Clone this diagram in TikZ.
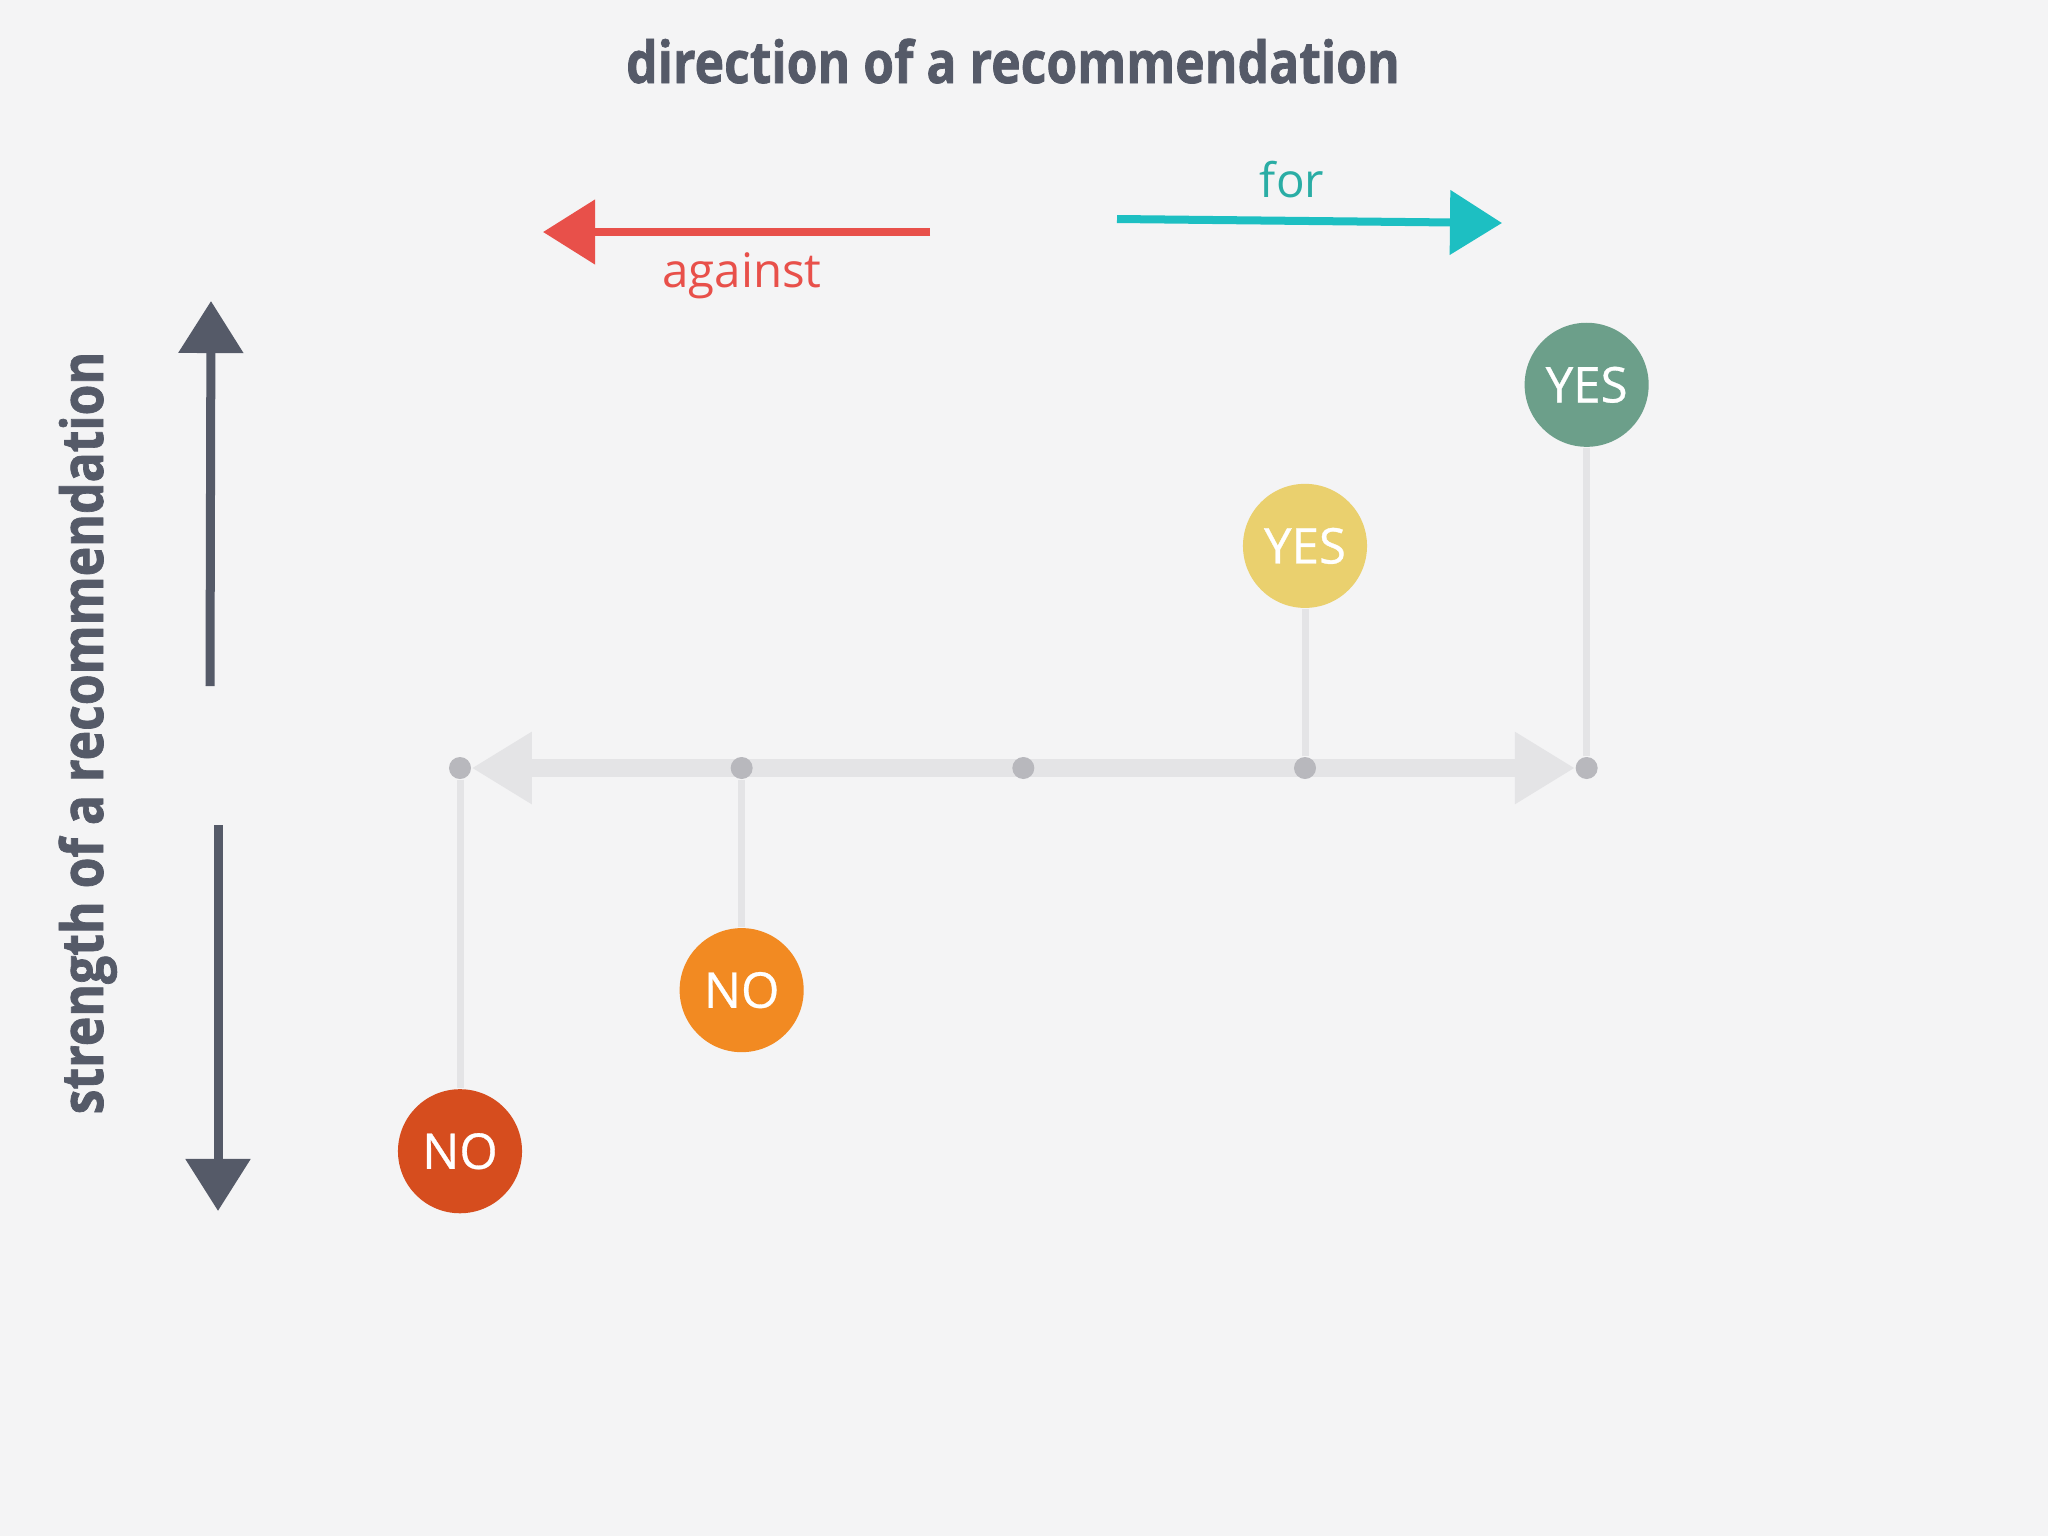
\documentclass[tikz,border=0pt]{standalone}
\usepackage{fontspec}
\setmainfont{Open Sans}
\newfontfamily\headfont{Open Sans}[FakeStretch=0.86, BoldFeatures={FakeBold=1.2}]
\newfontfamily\ballfont{Open Sans}[FakeBold=0.6]
\usepackage{tikz}
\usetikzlibrary{positioning,arrows.meta,backgrounds}
\definecolor{paper}{HTML}{F4F4F5}
\definecolor{slate}{HTML}{555A68}
\definecolor{axisgray}{HTML}{E4E4E6}
\definecolor{dotgray}{HTML}{B8B8BD}
\definecolor{againstred}{HTML}{E8504A}
\definecolor{forteal}{HTML}{1DBFC2}
\definecolor{fortext}{HTML}{2AADA5}
\definecolor{nored}{HTML}{D64D1E}
\definecolor{noorange}{HTML}{F28A22}
\definecolor{yesyellow}{HTML}{EAD06E}
\definecolor{yesgreen}{HTML}{6C9F8A}
\tikzstyle{ball} = [circle, minimum size=1.24cm, inner sep=0pt,
    text=white, font=\ballfont\fontsize{14}{16}\selectfont]
\tikzstyle{dot} = [circle, fill=dotgray, minimum size=0.22cm, inner sep=0pt]
\tikzstyle{stem} = [draw=axisgray, line width=0.07cm]
\tikzstyle{axis} = [draw=axisgray, line width=0.18cm,
    {Triangle[length=0.6cm,width=0.68cm]}-{Triangle[length=0.6cm,width=0.68cm]}]
\tikzstyle{heading} = [text=slate, font=\headfont\fontsize{16.5}{19}\selectfont\bfseries]
\tikzstyle{label} = [font=\fontsize{13.5}{16}\selectfont, anchor=base]
\tikzstyle{sketch} = [line width=0.08cm, -{Triangle[length=0.52cm,width=0.63cm]}]

\begin{document}
\begin{tikzpicture}[x=0.01cm, y=-0.01cm]
    \begin{pgfonlayer}{background}
      \fill [paper] (0,0) rectangle (2048,1536);
    \end{pgfonlayer}
    \useasboundingbox (0,0) rectangle (2048,1536);
    % Place nodes
    \node [dot] (d1) at (460,768) {};
    \node [dot, on grid, right=2.815cm of d1] (d2) {};
    \node [dot, on grid, right=2.815cm of d2] (d3) {};
    \node [dot, on grid, right=2.815cm of d3] (d4) {};
    \node [dot, on grid, right=2.815cm of d4] (d5) {};
    \node [ball, fill=nored, on grid, below=3.83cm of d1] (no1) {NO};
    \node [ball, fill=noorange, on grid, below=2.22cm of d2] (no2) {NO};
    \node [ball, fill=yesyellow, on grid, above=2.22cm of d4] (yes1) {YES};
    \node [ball, fill=yesgreen, on grid, above=3.83cm of d5] (yes2) {YES};
    \node [heading, anchor=base] (title) at (1013,83) {direction of a recommendation};
    \node [heading, rotate=90, anchor=base] (side) at (103,733) {strength of a recommendation};
    \node [label, text=againstred] (against) at (742,287) {against};
    \node [label, text=fortext] (for) at (1292,197) {for};
    \coordinate (ag1) at (930,232);
    \coordinate (ag2) at (543,232);
    \coordinate (fo1) at (1117,219);
    \coordinate (fo2) at (1502,223);
    \coordinate (up1) at (210,686);
    \coordinate (up2) at (211,301);
    \coordinate (dn1) at (218,825);
    \coordinate (dn2) at (218,1211);
    % Draw edges
    \begin{pgfonlayer}{background}
      \path [axis] (d1) -- (d5);
    \end{pgfonlayer}
    \path [stem] (d1) -- (no1);
    \path [stem] (d2) -- (no2);
    \path [stem] (d4) -- (yes1);
    \path [stem] (d5) -- (yes2);
    \draw [sketch, againstred] (ag1) -- (ag2);
    \draw [sketch, forteal] (fo1) -- (fo2);
    \draw [sketch, slate, line width=0.09cm] (up1) -- (up2);
    \draw [sketch, slate, line width=0.09cm] (dn1) -- (dn2);
\end{tikzpicture}
\end{document}
